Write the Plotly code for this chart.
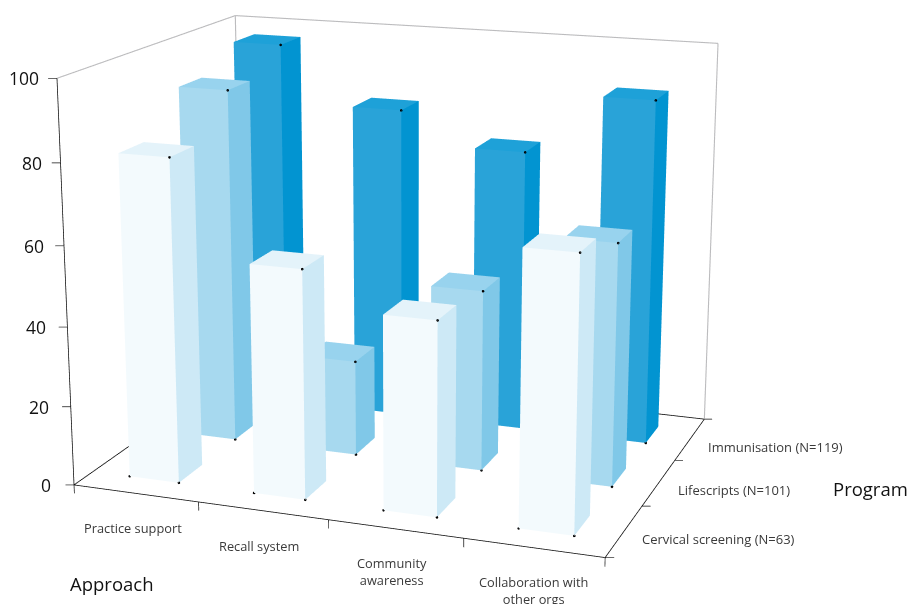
import plotly.graph_objects as go

# Chart content
approaches = ["Practice support", "Recall system", "Community<br>awareness", "Collaboration with<br>other orgs"]
programs = ["Cervical screening (N=63)", "Lifescripts (N=101)", "Immunisation (N=119)"]
cervical = [81, 57, 48, 67]
lifescripts = [91, 24.5, 46, 61]
immunisation = [97, 82, 73.5, 89]
z_ticks = [0, 20, 40, 60, 80, 100]

series = [cervical, lifescripts, immunisation]
# front face, side face, top face for each program
palette = [
    ("#f3fafd", "#cde9f6", "#e4f3fa"),
    ("#a7d9ef", "#80c8e8", "#98d3ee"),
    ("#29a3d8", "#0294d1", "#1ea1d8"),
]

BAR_INSET = 0.3
NX, NY, ZMAX = len(approaches), len(programs), z_ticks[-1]
FONT = "Open Sans"

# Oversized canvas: the long-lens perspective needs a large viewport whose
# optical centre is off-centre on the page, so the plot div is offset.
FIG_W, FIG_H, PAGE_LEFT, PAGE_TOP = 998, 1849, -89, -661

fig = go.Figure()


def add_bar(ix, iy, height, colors):
    x0, x1 = ix + BAR_INSET, ix + 1 - BAR_INSET
    y0, y1 = iy + BAR_INSET, iy + 1 - BAR_INSET
    xs = [x0, x1, x1, x0, x0, x1, x1, x0]
    ys = [y0, y0, y1, y1, y0, y0, y1, y1]
    zs = [0, 0, 0, 0, height, height, height, height]
    front, side, top = colors
    fig.add_trace(go.Mesh3d(
        x=xs, y=ys, z=zs,
        i=[0, 0, 1, 1, 4, 4],
        j=[1, 5, 2, 6, 5, 6],
        k=[5, 4, 6, 5, 6, 7],
        facecolor=[front, front, side, side, top, top],
        flatshading=True,
        lighting=dict(ambient=1, diffuse=0, specular=0, roughness=1, fresnel=0),
        hoverinfo="skip",
        showscale=False,
    ))


for iy, values in enumerate(series):
    for ix, value in enumerate(values):
        add_bar(ix, iy, value, palette[iy])


def add_lines(segments, color, width):
    xs, ys, zs = [], [], []
    for a, b in segments:
        xs += [a[0], b[0], None]
        ys += [a[1], b[1], None]
        zs += [a[2], b[2], None]
    fig.add_trace(go.Scatter3d(
        x=xs, y=ys, z=zs, mode="lines",
        line=dict(color=color, width=width),
        hoverinfo="skip", showlegend=False,
    ))


# Frame: dark floor edges and value axis, grey back walls
add_lines([
    ((0, 0, 0), (NX, 0, 0)),
    ((0, 0, 0), (0, NY, 0)),
    ((NX, 0, 0), (NX, NY, 0)),
    ((0, NY, 0), (NX, NY, 0)),
    ((0, 0, 0), (0, 0, ZMAX)),
], "#111111", 1.6)
add_lines([
    ((0, 0, ZMAX), (0, NY, ZMAX)),
    ((0, NY, ZMAX), (NX, NY, ZMAX)),
    ((NX, NY, ZMAX), (NX, NY, 0)),
    ((0, NY, 0), (0, NY, ZMAX)),
], "#bcbcbe", 2.2)

# Tick marks
TICK_DX, TICK_DY = 0.058, 0.021
add_lines([((-TICK_DX, -TICK_DY, z), (0, 0, z)) for z in z_ticks]
          + [((i, 0, 0), (i, 0, -2.2)) for i in range(NX + 1)]
          + [((NX, j, 0), (NX + TICK_DX, j + TICK_DY, 0)) for j in range(NY + 1)],
          "#111111", 1.4)

# Small registration dots on every bar
dx, dy, dz = [], [], []
for iy, values in enumerate(series):
    for ix, value in enumerate(values):
        x0, x1, y0 = ix + BAR_INSET, ix + 1 - BAR_INSET, iy + BAR_INSET
        dx += [x0, x1, x1]
        dy += [y0, y0, y0]
        dz += [0, 0, value]
fig.add_trace(go.Scatter3d(
    x=dx, y=dy, z=dz, mode="markers",
    marker=dict(size=1.5, color="#000000", line=dict(width=0)),
    hoverinfo="skip", showlegend=False,
))

# Text labels
notes = []


def note(x, y, z, text, xs, ys, anchor, size, color):
    notes.append(dict(
        x=x, y=y, z=z, text=text, showarrow=False,
        xanchor=anchor, yanchor="middle", xshift=xs, yshift=-ys,
        align="center",
        font=dict(family=FONT, size=size, color=color),
    ))


for z in z_ticks:
    note(0, 0, z, str(z), -16 - (ZMAX - z) * 0.05, 0, "right", 17.5, "#111111")
cat_shift = [(-3, 35), (-4, 35), (-3, 43), (0, 43)]
for i, label in enumerate(approaches):
    note(i + 0.5, 0, 0, label, cat_shift[i][0], cat_shift[i][1], "center", 12.8, "#3a3a3a")
prog_shift = [(16, 8), (17, 7.5), (16, 8)]
for j, label in enumerate(programs):
    note(NX, j + 0.5, 0, label, prog_shift[j][0], prog_shift[j][1], "left", 13, "#3a3a3a")
note(0, 0, 0, "Approach", 37.5, 99, "center", 18.5, "#111111")
note(NX, 1, 0, "Program", 229, -17.6, "center", 18.5, "#111111")

# The box is padded symmetrically so ticks below the floor stay inside the scene
PAD_X, PAD_Y, PAD_Z = 0.5, 0.5, 50
scale_x, scale_y, scale_z = 1.3306 / NX, 0.9996 / NY, 1.0 / ZMAX
hidden = dict(visible=False, showspikes=False)
fig.update_layout(
    width=FIG_W, height=FIG_H, autosize=False,
    margin=dict(l=0, r=0, t=0, b=0),
    paper_bgcolor="white",
    showlegend=False,
    scene=dict(
        domain=dict(x=[0, 1], y=[0, 1]),
        bgcolor="white",
        xaxis=dict(range=[-PAD_X, NX + PAD_X], **hidden),
        yaxis=dict(range=[-PAD_Y, NY + PAD_Y], **hidden),
        zaxis=dict(range=[-PAD_Z, ZMAX + PAD_Z], **hidden),
        aspectmode="manual",
        aspectratio=dict(
            x=scale_x * (NX + 2 * PAD_X),
            y=scale_y * (NY + 2 * PAD_Y),
            z=scale_z * (ZMAX + 2 * PAD_Z),
        ),
        camera=dict(
            eye=dict(x=1.837, y=-5.005, z=1.4347),
            center=dict(x=0.0192, y=0.0046, z=-0.0084),
            up=dict(x=0, y=0, z=1),
            projection=dict(type="perspective"),
        ),
        annotations=notes,
    ),
)

page_js = (
    "var gd=document.getElementById('{plot_id}');"
    f"gd.style.position='absolute';gd.style.left='{PAGE_LEFT}px';gd.style.top='{PAGE_TOP}px';"
    "document.documentElement.style.overflow='hidden';document.body.style.overflow='hidden';"
)
fig.write_html("out.html", post_script=page_js, config=dict(displayModeBar=False))
